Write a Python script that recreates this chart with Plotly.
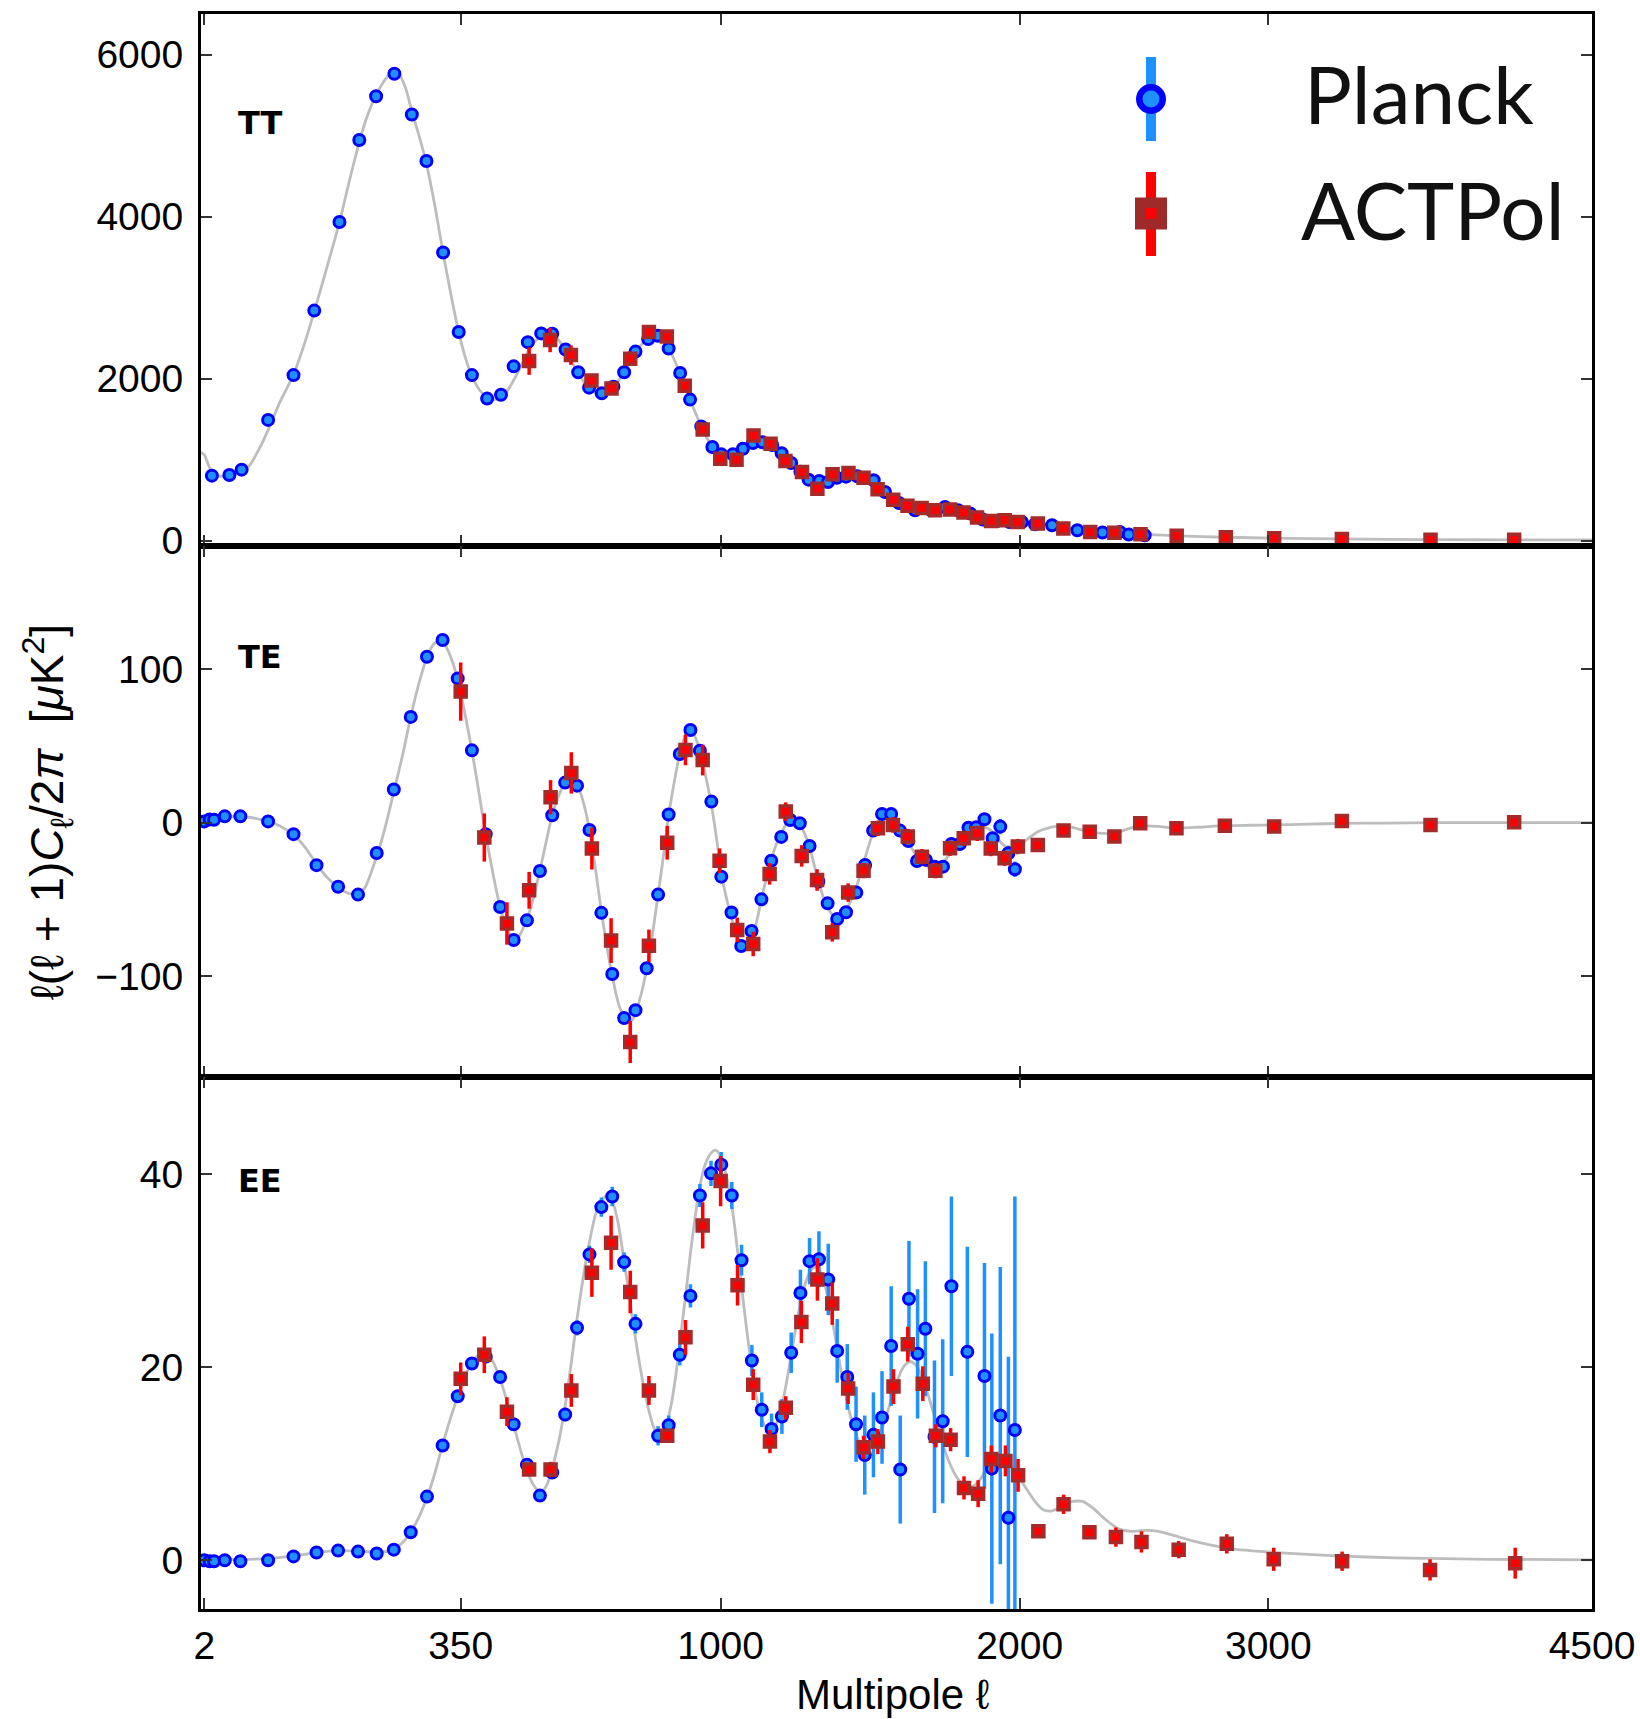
import numpy as np
import plotly.graph_objects as go

# ---------------- data (multipole ell, D_ell in uK^2) ----------------
tt_planck_ell = [5, 15, 24, 48, 76, 102, 137, 167, 194, 225, 256, 283, 315, 346, 373, 405, 435, 463, 495, 526,
                 552, 584, 615, 642, 674, 704, 732, 762, 796, 822, 852, 884, 912, 944, 976, 1002, 1036, 1066,
                 1096, 1125, 1155, 1184, 1214, 1243, 1269, 1303, 1331, 1360, 1390, 1427, 1482, 1520, 1568, 1623,
                 1680, 1728, 1775, 1819, 1864, 1916, 1962, 2008, 2057, 2122, 2219, 2317, 2386, 2421, 2485]
tt_planck_val = [802, 811, 876, 1490, 2043, 2839, 3933, 4945, 5485, 5762, 5260, 4685, 3557, 2575, 2043, 1753,
                 1801, 2151, 2450, 2558, 2554, 2359, 2078, 1888, 1818, 1900, 2078, 2333, 2489, 2528, 2372, 2069,
                 1741, 1410, 1155, 1065, 1065, 1135, 1205, 1215, 1180, 1080, 958, 850, 753, 736, 724, 777, 790,
                 794, 745, 601, 465, 375, 375, 416, 375, 334, 260, 243, 231, 231, 202, 190, 128, 100, 108, 75, 67]
tt_planck_err = [30] * len(tt_planck_ell)

tt_act_ell = [498, 547, 597, 648, 699, 748, 798, 847, 897, 948, 999, 1047, 1098, 1150, 1196, 1248, 1297, 1346,
              1398, 1448, 1495, 1548, 1597, 1646, 1693, 1746, 1794, 1843, 1894, 1944, 1992, 2068, 2165, 2269,
              2364, 2468, 2615, 2819, 3025, 3322, 3725, 4120]
tt_act_val = [2216, 2476, 2290, 1978, 1879, 2246, 2575, 2519, 1913, 1373, 1012, 999, 1299, 1196, 983, 847, 642,
              819, 835, 777, 634, 506, 432, 404, 375, 383, 346, 285, 243, 252, 231, 211, 149, 108, 96, 79, 60,
              41, 29, 21, 12, 12]
tt_act_err = [170, 150, 120, 80, 80, 90, 80, 80, 60, 40, 35, 30, 30, 25, 25, 20, 20, 20, 18, 15, 15, 12, 12, 10,
              10, 10, 8, 8, 8, 7, 7, 6, 5, 5, 5, 5, 4, 4, 4, 4, 4, 5]

tt_th_ell = [1, 2, 4, 7, 12, 20, 30, 40, 50, 60, 76, 90, 102, 120, 137, 152, 167, 180, 194, 210, 222, 232, 245,
             256, 270, 283, 300, 315, 330, 346, 360, 373, 390, 405, 420, 435, 450, 463, 480, 495, 510, 526, 540,
             552, 568, 584, 600, 615, 630, 645, 660, 674, 690, 704, 718, 732, 747, 762, 780, 796, 810, 822, 837,
             852, 868, 884, 898, 912, 928, 944, 960, 976, 990, 1002, 1020, 1036, 1066, 1096, 1125, 1150, 1184,
             1214, 1243, 1269, 1300, 1331, 1360, 1395, 1427, 1455, 1482, 1500, 1520, 1545, 1568, 1600, 1623,
             1650, 1680, 1710, 1728, 1760, 1790, 1819, 1864, 1900, 1940, 1980, 2010, 2060, 2120, 2220, 2320,
             2420, 2500, 2620, 2820, 3025, 3320, 3725, 4120, 4500]
tt_th_val = [1090, 1060, 900, 810, 790, 820, 920, 1150, 1420, 1700, 2050, 2450, 2830, 3400, 3930, 4450, 4920, 5250,
             5500, 5700, 5780, 5770, 5580, 5300, 4980, 4650, 4100, 3550, 3050, 2570, 2250, 2030, 1850, 1770,
             1740, 1770, 1860, 1980, 2160, 2330, 2450, 2530, 2560, 2550, 2470, 2350, 2200, 2070, 1950, 1870,
             1820, 1810, 1840, 1900, 1980, 2080, 2200, 2320, 2430, 2490, 2520, 2520, 2470, 2380, 2230, 2060,
             1900, 1740, 1570, 1410, 1270, 1160, 1090, 1060, 1040, 1050, 1110, 1180, 1200, 1170, 1070, 960,
             850, 770, 720, 720, 760, 790, 790, 760, 720, 670, 600, 530, 470, 410, 385, 372, 375, 385, 388,
             380, 360, 335, 275, 250, 238, 230, 225, 205, 185, 140, 110, 88, 75, 60, 42, 30, 21, 13, 10, 8]

te_planck_ell = [2, 4, 6, 12, 23, 48, 76, 105, 135, 165, 195, 224, 254, 284, 314, 344, 373, 402, 433, 463, 493,
                 523, 552, 583, 612, 643, 673, 701, 732, 762, 792, 823, 852, 883, 913, 940, 973, 1002, 1032,
                 1061, 1092, 1122, 1152, 1183, 1211, 1241, 1272, 1300, 1330, 1361, 1390, 1424, 1453, 1480, 1510,
                 1541, 1571, 1600, 1630, 1661, 1691, 1721, 1751, 1781, 1812, 1840, 1870, 1900, 1928, 1958, 1982]
te_planck_val = [0.8, 2.1, 1.9, 4.1, 4.1, 0.8, -7.5, -27.7, -41.8, -46.9, -19.8, 21.6, 68.9, 108.1, 119.0,
                 94.0, 47.1, -7.5, -55.0, -76.5, -63.7, -31.5, 4.8, 26.1, 24.1, -4.8, -58.8, -98.7, -127.3,
                 -122.2, -94.9, -46.9, 5.3, 44.7, 60.4, 46.9, 13.7, -35.2, -58.6, -80.4, -70.6, -50.0, -24.8,
                 -9.3, 1.7, -0.4, -15.2, -38.4, -52.6, -62.8, -58.4, -45.6, -27.6, -5.2, 5.6, 5.6, -5.2, -12.0,
                 -25.0, -24.3, -28.7, -28.7, -13.9, -13.9, -3.3, -3.0, 2.2, -10.2, -2.6, -20.0, -30.4]
te_planck_err = [0.5] * 6 + [1] * 6 + [2] * 20 + [2.5] * 10 + [3] * 20 + [4] * 6 + [5] * 5 + [6, 6, 8.7]

te_act_ell = [350, 399, 448, 498, 548, 598, 649, 698, 748, 798, 848, 899, 948, 997, 1049, 1097, 1147, 1197,
              1247, 1296, 1345, 1397, 1448, 1496, 1547, 1598, 1647, 1694, 1746, 1795, 1844, 1893, 1944, 1993,
              2068, 2166, 2267, 2364, 2467, 2614, 2815, 3025, 3322, 3725, 4120]
te_act_val = [85.4, -9.7, -65.7, -44.1, 16.5, 32.4, -16.9, -76.9, -143.0, -80.3, -13.1, 47.4, 40.8, -24.8,
              -69.9, -79.1, -33.4, 7.2, -21.7, -37.4, -71.5, -45.6, -31.3, -3.7, -1.5, -9.1, -22.2, -31.3,
              -16.7, -10.2, -7.0, -16.9, -23.2, -15.6, -14.6, -5.2, -5.9, -9.1, -0.4, -3.7, -2.0, -2.6, 1.1,
              -1.5, 0.2]
te_act_err = [19, 15.7, 13.8, 12, 11.2, 13.5, 13.7, 14.6, 13.7, 10.6, 11, 10, 10, 8, 8, 8, 7, 6, 7, 7, 6, 6, 5,
              5, 5, 5, 5, 5, 5, 5, 5, 5, 5, 5, 4, 3, 3, 3, 3, 3, 3, 3, 3, 3, 3]

te_th_ell = [2, 5, 10, 20, 30, 47, 60, 76, 90, 105, 120, 135, 150, 162, 175, 195, 210, 224, 240, 254, 270, 284,
             296, 306, 316, 330, 344, 358, 373, 388, 402, 418, 433, 448, 460, 472, 493, 508, 523, 538, 552, 568,
             583, 598, 612, 628, 643, 658, 673, 688, 701, 716, 732, 745, 755, 762, 777, 792, 808, 823, 838, 852,
             868, 883, 898, 908, 918, 928, 940, 955, 973, 988, 1002, 1018, 1032, 1047, 1061, 1075, 1085, 1095,
             1108, 1122, 1137, 1152, 1168, 1183, 1198, 1211, 1226, 1241, 1256, 1272, 1286, 1300, 1315, 1330,
             1345, 1361, 1375, 1390, 1408, 1424, 1440, 1453, 1467, 1480, 1495, 1510, 1525, 1541, 1556, 1571,
             1600, 1630, 1661, 1691, 1721, 1751, 1781, 1812, 1840, 1870, 1900, 1930, 1960, 1985, 2020, 2068,
             2120, 2166, 2220, 2267, 2320, 2364, 2420, 2467, 2540, 2614, 2700, 2815, 2920, 3025, 3170, 3322,
             3520, 3725, 3920, 4120, 4500]
te_th_val = [0, 2, 3.5, 4, 3.5, 1, -2, -8, -16, -27, -36, -42, -46, -46.5, -43, -22, -2, 20, 45, 69, 92, 108,
             116, 118.5, 117, 108, 93, 72, 47, 19, -8, -34, -55, -69, -75, -75, -63, -49, -31, -12, 5, 18, 26,
             29, 25, 13, -5, -30, -58, -82, -100, -117, -127, -130, -128, -124, -112, -95, -72, -47, -21, 5,
             27, 45, 56, 59, 59, 55, 47, 32, 12, -10, -33, -50, -62, -73, -79, -80, -79, -74, -64, -50, -36,
             -24, -14, -7, -1, 2, 2.5, -1, -7, -16, -27, -38, -48, -55, -60, -62, -61, -57, -50, -42, -32, -23,
             -14, -6, 0, 4, 5, 4.5, 1, -4, -13, -22, -27, -28.5, -26, -19, -12, -6, -3, -3, -6, -13, -17, -17,
             -12, -6, -3, -2, -4, -6, -7, -7, -4, -2, -2.5, -3.5, -3, -2, -1.7, -1.5, -1, -0.5, -0.3, 0, 0, 0,
             0]

ee_planck_ell = [2, 4, 6, 12, 23, 48, 76, 105, 135, 165, 195, 224, 254, 284, 314, 344, 373, 402, 433, 463, 493,
                 523, 552, 583, 612, 643, 673, 701, 732, 762, 798, 823, 852, 883, 913, 940, 972, 1002, 1033,
                 1062, 1093, 1123, 1153, 1185, 1214, 1243, 1272, 1302, 1332, 1361, 1394, 1423, 1452, 1481,
                 1510, 1541, 1572, 1602, 1632, 1659, 1691, 1720, 1751, 1808, 1870, 1897, 1928, 1958, 1982]
ee_planck_val = [0.0, -0.1, -0.1, 0.0, -0.1, 0.0, 0.4, 0.8, 1.0, 0.9, 0.7, 1.1, 2.9, 6.6, 11.9, 17.0, 20.4,
                 21.1, 19.0, 14.1, 9.9, 6.7, 9.1, 15.1, 24.1, 31.7, 36.6, 37.7, 30.9, 24.5, 17.6, 12.9, 14.0,
                 21.3, 27.4, 37.8, 40.1, 41.0, 37.8, 31.1, 20.7, 15.6, 13.6, 14.9, 21.5, 27.7, 31.0, 31.2, 29.1,
                 21.7, 19.0, 14.1, 10.9, 13.0, 14.8, 22.2, 9.4, 27.1, 21.4, 24.0, 12.8, 14.4, 28.4, 21.6, 19.1,
                 9.5, 15.0, 4.4, 13.5]
ee_planck_err = [0.05] * 6 + [0.1] * 5 + [0.15, 0.2, 0.3, 0.4, 0.5, 0.5, 0.6, 0.6, 0.6, 0.6, 0.6, 0.6, 0.7,
                 0.8, 0.9, 1.0, 1.0, 1.0, 1.0, 1.0, 1.0, 1.0, 1.1, 1.2, 1.2, 1.3, 1.3, 1.4, 1.6, 1.6, 1.8, 1.6,
                 1.8, 2.1, 2.4, 2.4, 2.9, 3.7, 3.3, 3.4, 3.9, 4.1, 4.4, 4.8, 6.2, 5.6, 6.0, 6.7, 7.0, 7.9, 8.5,
                 9.3, 10.9, 11.7, 14.0, 15.4, 16.7, 24.2]

ee_act_ell = [350, 399, 448, 498, 548, 598, 649, 698, 748, 798, 848, 899, 948, 1000, 1050, 1097, 1148, 1197,
              1246, 1297, 1345, 1397, 1448, 1496, 1549, 1598, 1650, 1696, 1748, 1796, 1847, 1895, 1947, 1994,
              2070, 2166, 2266, 2370, 2472, 2623, 2823, 3023, 3323, 3723, 4125]
ee_act_val = [18.8, 21.3, 15.4, 9.4, 9.4, 17.6, 29.8, 32.9, 27.8, 17.6, 12.9, 23.1, 34.7, 39.3, 28.5, 18.2,
              12.3, 15.8, 24.7, 29.1, 26.6, 17.8, 11.7, 12.3, 18.0, 22.4, 18.3, 12.9, 12.5, 7.5, 6.9, 10.5,
              10.3, 8.8, 3.0, 5.8, 2.9, 2.4, 1.9, 1.1, 1.7, 0.1, -0.1, -1.0, -0.3]
ee_act_err = [1.7, 1.9, 1.5, 0.6, 0.8, 1.7, 2.5, 2.8, 2.2, 1.5, 0.7, 1.8, 2.4, 2.6, 2.1, 1.6, 1.2, 1.2, 2.2,
              2.2, 2.2, 1.6, 1.2, 1.3, 1.8, 1.8, 1.8, 1.2, 1.2, 1.2, 1.4, 1.4, 1.6, 1.7, 0.6, 1.0, 0.6, 1.0,
              1.1, 0.9, 1.0, 1.2, 1.0, 1.1, 1.6]

ee_th_ell = [2, 10, 30, 50, 76, 105, 135, 165, 195, 215, 235, 254, 270, 284, 300, 314, 330, 344, 358, 373, 388,
             400, 415, 433, 448, 463, 478, 493, 508, 520, 532, 542, 552, 568, 583, 598, 612, 628, 643, 658, 673,
             688, 701, 716, 732, 747, 762, 780, 798, 811, 823, 835, 847, 860, 872, 883, 898, 913, 928, 940, 955,
             972, 985, 995, 1010, 1025, 1040, 1055, 1070, 1085, 1100, 1115, 1130, 1145, 1160, 1175, 1190, 1205,
             1220, 1235, 1250, 1265, 1280, 1292, 1305, 1320, 1335, 1350, 1365, 1380, 1395, 1410, 1425, 1440,
             1455, 1470, 1485, 1500, 1515, 1530, 1545, 1560, 1575, 1590, 1605, 1620, 1635, 1650, 1665, 1680,
             1695, 1710, 1725, 1740, 1755, 1770, 1790, 1808, 1830, 1850, 1875, 1900, 1920, 1940, 1960, 1980,
             2000, 2030, 2060, 2090, 2120, 2160, 2200, 2240, 2280, 2330, 2378, 2430, 2490, 2540, 2600, 2680,
             2752, 2850, 2950, 3036, 3300, 3563, 4000, 4500]
ee_th_val = [0.05, 0.05, 0.1, 0.2, 0.45, 0.8, 1.0, 0.95, 0.85, 0.95, 1.6, 2.9, 4.6, 6.5, 9.2, 12, 14.8, 17, 19,
             20.5, 21.3, 21.4, 20.8, 18.8, 16.5, 14, 11.5, 9.3, 7.8, 7.2, 7.3, 8.1, 9.5, 12.4, 16, 20.5, 25,
             29.5, 33, 35.8, 37.3, 37.8, 37.3, 35, 31, 27, 23, 18.8, 15.5, 13.8, 13.1, 13.2, 14.2, 16.3, 19.2,
             22.5, 27, 31.8, 36, 38.8, 41, 42.2, 42.5, 42.2, 40.8, 38.5, 35, 30.5, 26, 21.8, 18.2, 15.6, 14.1,
             13.5, 13.7, 14.8, 16.8, 19.5, 22.5, 25.3, 27.7, 29.3, 30.2, 30.4, 30, 28.7, 26.6, 24, 21.2, 18.5,
             16.2, 14.3, 12.9, 12, 11.6, 11.6, 12, 12.9, 14.1, 15.5, 17, 18.4, 19.6, 20.3, 20.6, 20.4, 19.8,
             18.8, 17.5, 16, 14.5, 13, 11.6, 10.4, 9.4, 8.6, 7.9, 7.6, 7.7, 8.2, 9.3, 10.3, 10.6, 10.5, 10.1,
             9.3, 8.5, 7.2, 6.0, 5.2, 5.1, 5.6, 6.1, 6.1, 5.4, 4.2, 3.3, 3.0, 3.1, 3.0, 2.6, 2.0, 1.6, 1.15,
             0.95, 0.8, 0.45, 0.25, 0.1, 0.05]

x_tick_ell = [2, 350, 1000, 2000, 3000, 4500]
x_tick_text = ["2", "350", "1000", "2000", "3000", "4500"]
tt_ticks = [0, 2000, 4000, 6000]
te_ticks = [-100, 0, 100]
ee_ticks = [0, 20, 40]

# ---------------- helpers ----------------
POW = 0.65  # horizontal scale is linear in ell**0.65


def xt(ell):
    return np.asarray(ell, dtype=float) ** POW


W, H = 1640, 1719
ML, MR, MT, MB = 201, 48, 14, 110
PW, PH = W - ML - MR, H - MT - MB


def pxx(p):
    return (p - ML) / PW


def pxy(p):
    return (H - MB - p) / PH


PLANCK_FILL, PLANCK_EDGE = "#1E90FF", "#0000FF"
ACT_FILL, ACT_EDGE = "#FF0000", "#A52A2A"
TH_COLOR = "#BDBDBD"

fig = go.Figure()

panels = [
    ("x", "y", tt_th_ell, tt_th_val, tt_planck_ell, tt_planck_val, tt_planck_err, tt_act_ell, tt_act_val, tt_act_err),
    ("x2", "y2", te_th_ell, te_th_val, te_planck_ell, te_planck_val, te_planck_err, te_act_ell, te_act_val, te_act_err),
    ("x3", "y3", ee_th_ell, ee_th_val, ee_planck_ell, ee_planck_val, ee_planck_err, ee_act_ell, ee_act_val, ee_act_err),
]

for xa, ya, thl, thv, pl, pv, pe, al, av, ae in panels:
    fig.add_trace(go.Scatter(x=xt(thl), y=thv, mode="lines", xaxis=xa, yaxis=ya, showlegend=False,
                             line=dict(color=TH_COLOR, width=2.8, shape="spline", smoothing=0.6),
                             hoverinfo="skip"))
    fig.add_trace(go.Scatter(x=xt(pl), y=pv, mode="markers", xaxis=xa, yaxis=ya, showlegend=False,
                             name="Planck",
                             error_y=dict(type="data", array=pe, color=PLANCK_FILL, thickness=3.5, width=0),
                             marker=dict(symbol="circle", size=11, color=PLANCK_FILL,
                                         line=dict(color=PLANCK_EDGE, width=3))))
    fig.add_trace(go.Scatter(x=xt(al), y=av, mode="markers", xaxis=xa, yaxis=ya, showlegend=False,
                             name="ACTPol",
                             error_y=dict(type="data", array=ae, color=ACT_FILL, thickness=3.5, width=0),
                             marker=dict(symbol="square", size=11, color=ACT_FILL,
                                         line=dict(color=ACT_EDGE, width=3.5))))

tick_font = dict(family="Liberation Sans Narrow, Liberation Sans, Arial, sans-serif", size=39, color="black")

xcommon = dict(range=[1.0, 4500 ** POW], tickmode="array", tickvals=xt(x_tick_ell), ticktext=x_tick_text,
               ticks="inside", ticklen=11, tickwidth=1.5, tickcolor="#333333", showline=True, linewidth=3,
               linecolor="black", mirror="ticks", showgrid=False, zeroline=False, tickfont=tick_font,
               ticklabelstandoff=0, automargin=False)
ycommon = dict(ticks="inside", ticklen=11, tickwidth=1.5, tickcolor="#333333", showline=True, linewidth=3,
               linecolor="black", mirror="ticks", showgrid=False, zeroline=False, tickfont=tick_font,
               tickmode="array", ticklabelstandoff=7, automargin=False)

fig.update_layout(
    width=W, height=H, margin=dict(l=ML, r=MR, t=MT, b=MB, pad=0, autoexpand=False),
    paper_bgcolor="white", plot_bgcolor="white", showlegend=False,
    xaxis=dict(xcommon, anchor="y", domain=[0, 1], showticklabels=False),
    xaxis2=dict(xcommon, anchor="y2", domain=[0, 1], showticklabels=False),
    xaxis3=dict(xcommon, anchor="y3", domain=[0, 1], showticklabels=True),
    yaxis=dict(ycommon, anchor="x", domain=[2 / 3, 1], range=[-62, 6500], tickvals=tt_ticks,
               ticktext=[str(v) for v in tt_ticks]),
    yaxis2=dict(ycommon, anchor="x2", domain=[1 / 3, 2 / 3], range=[-166, 180.5], tickvals=te_ticks,
                ticktext=["\u2212100", "0", "100"]),
    yaxis3=dict(ycommon, anchor="x3", domain=[0, 1 / 3], range=[-5.05, 50.05], tickvals=ee_ticks,
                ticktext=[str(v) for v in ee_ticks]),
)

# panel labels
for label, ypix in [("TT", 123), ("TE", 657), ("EE", 1181)]:
    fig.add_annotation(text="<b>%s</b>" % label, xref="paper", yref="paper", x=pxx(236), y=pxy(ypix),
                       xanchor="left", yanchor="middle", showarrow=False,
                       font=dict(family="DejaVu Sans", size=32, color="black"))

# axis titles
fig.add_annotation(text="\u2113(\u2113 + 1)<i>C</i><sub>\u2113</sub>/2<i>\u03c0</i>  [<i>\u03bc</i>K<sup>2</sup>]",
                   xref="paper", yref="paper", x=pxx(47), y=pxy(812), textangle=-90, showarrow=False,
                   xanchor="center", yanchor="middle",
                   font=dict(family="Liberation Sans, Arial, sans-serif", size=46, color="black"))
fig.add_annotation(text="Multipole \u2113", xref="paper", yref="paper", x=pxx(893), y=pxy(1694),
                   showarrow=False, xanchor="center", yanchor="middle",
                   font=dict(family="Liberation Sans Narrow, Liberation Sans, Arial, sans-serif", size=42,
                             color="black"))

# hand-drawn legend (large, as in the reference)
shapes = []
cx = 1151
shapes.append(dict(type="rect", xref="paper", yref="paper", x0=pxx(cx - 5), x1=pxx(cx + 5), y0=pxy(141),
                   y1=pxy(57), fillcolor=PLANCK_FILL, line=dict(width=0)))
r = 11.75
shapes.append(dict(type="circle", xref="paper", yref="paper", x0=pxx(cx - r), x1=pxx(cx + r), y0=pxy(99 + r),
                   y1=pxy(99 - r), fillcolor=PLANCK_FILL, line=dict(color=PLANCK_EDGE, width=6.5)))
shapes.append(dict(type="rect", xref="paper", yref="paper", x0=pxx(cx - 5), x1=pxx(cx + 5), y0=pxy(256),
                   y1=pxy(172), fillcolor=ACT_FILL, line=dict(width=0)))
shapes.append(dict(type="rect", xref="paper", yref="paper", x0=pxx(cx - 16), x1=pxx(cx + 16), y0=pxy(229.5),
                   y1=pxy(197.5), fillcolor="#9E2A2A", line=dict(width=0)))
shapes.append(dict(type="rect", xref="paper", yref="paper", x0=pxx(cx - 5.5), x1=pxx(cx + 5.5), y0=pxy(219),
                   y1=pxy(208), fillcolor=ACT_FILL, line=dict(width=0)))
fig.update_layout(shapes=shapes)

fig.add_annotation(text="Planck", xref="paper", yref="paper", x=pxx(1302), y=pxy(93), xanchor="left",
                   yanchor="middle", showarrow=False, font=dict(family="Lato", size=80, color="#111111"))
fig.add_annotation(text="ACTPol", xref="paper", yref="paper", x=pxx(1299), y=pxy(209), xanchor="left",
                   yanchor="middle", showarrow=False, font=dict(family="Lato", size=80, color="#111111"))

fig.write_html("out.html")
